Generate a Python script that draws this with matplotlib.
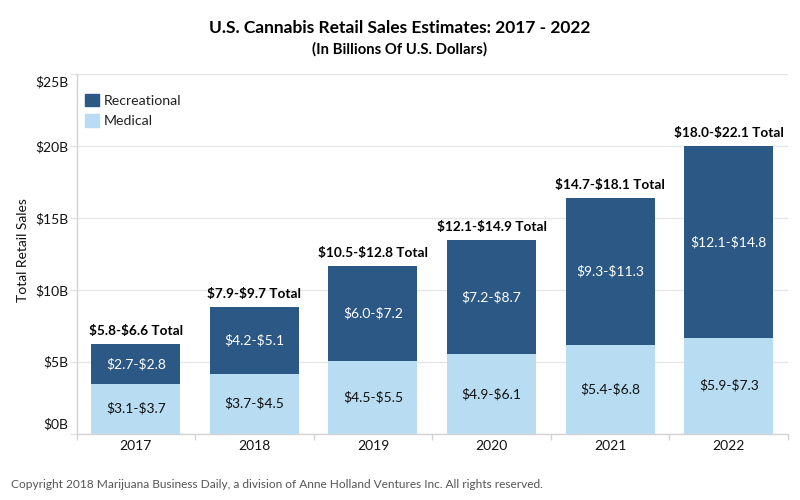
import matplotlib
matplotlib.use("Agg")
import matplotlib.pyplot as plt
from matplotlib.patches import Patch
from matplotlib.transforms import ScaledTranslation

plt.rcParams['font.family'] = ['Lato', 'DejaVu Sans']

years = ['2017', '2018', '2019', '2020', '2021', '2022']
medical = [3.45, 4.15, 5.05, 5.5, 6.15, 6.65]
recreational = [2.75, 4.65, 6.6, 7.95, 10.25, 13.35]
medical_labels = ['$3.1-$3.7', '$3.7-$4.5', '$4.5-$5.5', '$4.9-$6.1', '$5.4-$6.8', '$5.9-$7.3']
recreational_labels = ['$2.7-$2.8', '$4.2-$5.1', '$6.0-$7.2', '$7.2-$8.7', '$9.3-$11.3', '$12.1-$14.8']
total_labels = ['$5.8-$6.6 Total', '$7.9-$9.7 Total', '$10.5-$12.8 Total',
                '$12.1-$14.9 Total', '$14.7-$18.1 Total', '$18.0-$22.1 Total']
y_ticks = [0, 5, 10, 15, 20, 25]
y_tick_labels = ['$0B', '$5B', '$10B', '$15B', '$20B', '$25B']

DARK = '#2c5885'
LIGHT = '#b8dcf1'
W, H = 800, 500

fig = plt.figure(figsize=(8, 5), dpi=100, facecolor='white')
ax = fig.add_axes([76.5 / W, 1 - 433.5 / H, (788 - 76.5) / W, (433.5 - 74) / H])
x = list(range(len(years)))
ax.bar(x, medical, width=0.75, color=LIGHT, zorder=3)
ax.bar(x, recreational, width=0.75, bottom=medical, color=DARK, zorder=3)

for i in x:
    ax.text(i, medical[i] / 2, medical_labels[i], ha='center', va='center',
            fontsize=10, color='#111111', zorder=4, parse_math=False)
    ax.text(i, medical[i] + recreational[i] / 2, recreational_labels[i], ha='center',
            va='center', fontsize=10, color='white', zorder=4, parse_math=False)
    ax.annotate(total_labels[i], (i, medical[i] + recreational[i]), xytext=(0, 5),
                textcoords='offset points', ha='center', va='bottom', fontsize=9.8,
                fontweight='bold', color='black', zorder=4, parse_math=False)

ax.set_xlim(-0.5, 5.5)
ax.set_ylim(0, 25.02)
ax.set_yticks(y_ticks)
ax.set_yticklabels(y_tick_labels, fontsize=10, color='#111111')
for lab in ax.get_yticklabels():
    lab.set_parse_math(False)
ax.set_xticks(x)
ax.set_xticklabels(years, fontsize=10, color='#111111')
ax.set_xticks([i - 0.5 for i in range(7)], minor=True)
ax.tick_params(axis='x', which='major', length=0, pad=5)
ax.tick_params(axis='x', which='minor', length=4, width=1, color='#d4d4d4')
ax.tick_params(axis='y', length=5, width=1, color='#e4e4e4', pad=1)
ax.yaxis.grid(True, color='#e6e6e6', linewidth=1, zorder=0)
ax.set_axisbelow(True)
for s in ['top', 'right']:
    ax.spines[s].set_visible(False)
for s in ['left', 'bottom']:
    ax.spines[s].set_color('#d4d4d4')
    ax.spines[s].set_linewidth(1)
ax.set_ylabel('Total Retail Sales', fontsize=10, color='#111111', labelpad=4, y=0.51)

ax.legend(handles=[Patch(color=DARK, label='Recreational'), Patch(color=LIGHT, label='Medical')],
          loc='upper left', bbox_to_anchor=(8.5 / 711.5, 1 - 19.5 / 359.5), frameon=False, fontsize=10.2,
          handlelength=1.0, handleheight=1.0, handletextpad=0.35, labelspacing=0.52,
          labelcolor='#222222', borderaxespad=0, borderpad=0)

fig.text(400 / W, 1 - 28 / H, 'U.S. Cannabis Retail Sales Estimates: 2017 - 2022', ha='center',
         va='center', fontsize=12.5, fontweight='bold', color='black')
fig.text(400 / W, 1 - 49 / H, '(In Billions Of U.S. Dollars)', ha='center', va='center',
         fontsize=10.7, fontweight='bold', color='black')
fig.text(11 / W, 1 - 484 / H, 'Copyright 2018 Marijuana Business Daily, a division of Anne Holland Ventures Inc. All rights reserved.',
         ha='left', va='center', fontsize=8.55, color='#555555')

# first and last value labels sit just inside the axis range, as in the reference
ticks = ax.get_yticklabels()
ticks[0].set_transform(ticks[0].get_transform() + ScaledTranslation(0, 10 / 100, fig.dpi_scale_trans))
ticks[-1].set_transform(ticks[-1].get_transform() + ScaledTranslation(0, -7 / 100, fig.dpi_scale_trans))

fig.savefig('out.png', dpi=100)
